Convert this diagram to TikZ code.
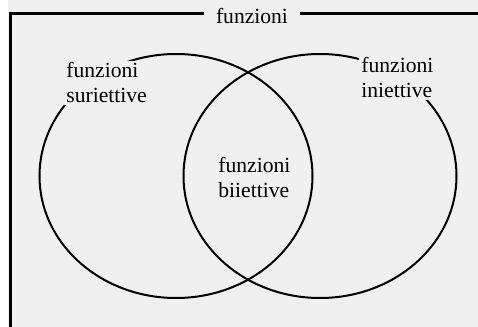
\documentclass[tikz,border=0pt]{standalone}
\usepackage{fontspec}
\setmainfont{Liberation Serif}
\usetikzlibrary{shapes.geometric}
\definecolor{bg}{RGB}{240,240,240}
\tikzset{
    set/.style={draw,ellipse,line width=1pt,minimum width=136.5pt,minimum height=122pt,inner sep=0pt},
    label/.style={fill=bg,inner sep=1pt,align=left,font=\fontsize{10.8}{12.5}\selectfont}
}
\begin{document}
        \begin{tikzpicture}[x=0.5pt,y=-0.5pt]
            \useasboundingbox (0,0) rectangle (478,327);
            \fill[bg] (8,0) rectangle (478,327);
            \coordinate (A) at (10.5, 330);
            \coordinate (B) at (10.5, 13.5);
            \coordinate (C) at (480, 13.5);
            \draw[line width=1.5pt] (A) -- (B) -- (C);

            \node[set] (S) at (176, 176) {};
            \node[set] (I) at (320, 176) {};

            \node[label,anchor=base,inner xsep=6.25pt] (F) at (252, 23) {funzioni};
            \node[label,anchor=north west] (surj) at (64, 60.3) {funzioni\\suriettive};
            \node[label,anchor=north west] (inj) at (359, 55) {funzioni\\iniettive};
            \node[label,anchor=north west,fill=none] (bij) at (216, 155.3) {funzioni\\biiettive};
        \end{tikzpicture}
\end{document}
